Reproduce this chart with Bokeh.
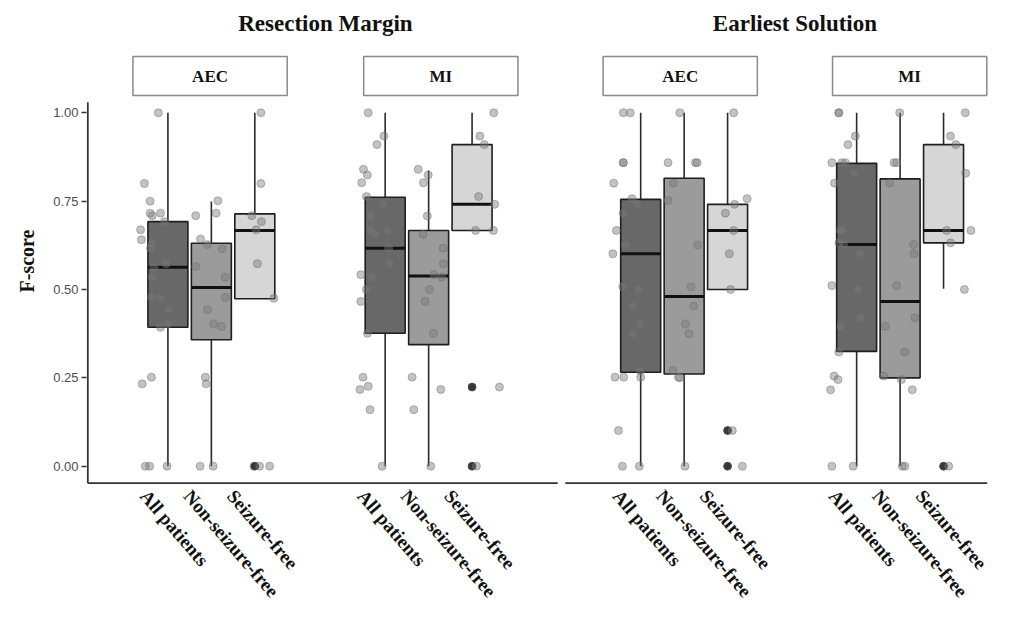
import math
from bokeh.plotting import figure
from bokeh.models import Range1d, FixedTicker, PrintfTickFormatter, ColumnDataSource, Title
from bokeh.core.properties import value
from bokeh.embed import file_html
from bokeh.resources import INLINE

# ---------------- data ----------------
groups = ["Resection Margin", "Earliest Solution"]
methods = ["AEC", "MI", "AEC", "MI"]
categories = ["All patients", "Non-seizure-free", "Seizure-free"]
y_ticks = [0.0, 0.25, 0.5, 0.75, 1.0]
y_title = "F-score"

# box statistics per facet: [All patients, Non-seizure-free, Seizure-free]
rm_aec_q1 = [0.393, 0.358, 0.474]
rm_aec_med = [0.563, 0.506, 0.667]
rm_aec_q3 = [0.692, 0.631, 0.714]
rm_aec_lo = [0.0, 0.0, 0.474]
rm_aec_hi = [1.0, 0.749, 1.0]
rm_aec_out = [[], [], [0.0]]

rm_mi_q1 = [0.376, 0.344, 0.667]
rm_mi_med = [0.617, 0.538, 0.741]
rm_mi_q3 = [0.761, 0.667, 0.910]
rm_mi_lo = [0.0, 0.0, 0.667]
rm_mi_hi = [1.0, 0.837, 1.0]
rm_mi_out = [[], [], [0.224, 0.0]]

es_aec_q1 = [0.266, 0.261, 0.500]
es_aec_med = [0.601, 0.480, 0.667]
es_aec_q3 = [0.755, 0.815, 0.741]
es_aec_lo = [0.0, 0.0, 0.500]
es_aec_hi = [1.0, 1.0, 1.0]
es_aec_out = [[], [], [0.101, 0.0]]

es_mi_q1 = [0.325, 0.250, 0.632]
es_mi_med = [0.627, 0.466, 0.667]
es_mi_q3 = [0.857, 0.813, 0.910]
es_mi_lo = [0.0, 0.0, 0.502]
es_mi_hi = [1.0, 1.0, 1.0]
es_mi_out = [[], [], [0.0]]

# individual patient F-scores and their horizontal jitter
rm_aec_all = [1.0, 0.80, 0.75, 0.716, 0.709, 0.716, 0.692, 0.669, 0.641, 0.629, 0.617, 0.573,
              0.563, 0.535, 0.478, 0.475, 0.443, 0.393, 0.403, 0.233, 0.252, 0.0, 0.0, 0.0]
rm_aec_all_jit = [-0.22, -0.54, -0.41, -0.41, -0.36, -0.17, -0.08, -0.63, -0.61, -0.36, -0.40, -0.04,
                  -0.32, -0.36, -0.38, -0.18, 0.01, -0.17, 0.0, -0.59, -0.38, -0.52, -0.42, -0.02]
rm_aec_nsf = [0.709, 0.751, 0.716, 0.643, 0.627, 0.615, 0.565, 0.535, 0.478, 0.443, 0.403, 0.395,
              0.252, 0.233, 0.0, 0.0]
rm_aec_nsf_jit = [-0.36, 0.15, 0.11, -0.25, -0.09, 0.25, -0.36, 0.32, 0.32, -0.09, 0.05, 0.23,
                  -0.14, -0.12, -0.26, 0.04]
rm_aec_sf = [1.0, 0.80, 0.709, 0.692, 0.669, 0.573, 0.475, 0.0, 0.0, 0.0]
rm_aec_sf_jit = [0.14, 0.14, -0.07, 0.15, 0.03, 0.06, 0.44, -0.02, 0.11, 0.34]

rm_mi_all = [1.0, 0.934, 0.910, 0.840, 0.824, 0.802, 0.763, 0.741, 0.708, 0.669, 0.656, 0.667,
             0.617, 0.573, 0.535, 0.542, 0.50, 0.466, 0.376, 0.252, 0.217, 0.226, 0.160, 0.0]
rm_mi_all_jit = [-0.39, -0.03, -0.19, -0.50, -0.41, -0.54, -0.43, -0.05, -0.34, -0.34, -0.24, 0.05,
                 0.08, 0.11, -0.31, -0.56, -0.43, -0.56, -0.41, -0.51, -0.58, -0.39, -0.35, -0.07]
rm_mi_nsf = [0.840, 0.824, 0.802, 0.708, 0.656, 0.617, 0.573, 0.542, 0.535, 0.50, 0.466, 0.376,
             0.252, 0.217, 0.160, 0.0]
rm_mi_nsf_jit = [-0.24, -0.01, -0.12, -0.03, -0.13, 0.33, 0.34, 0.12, 0.30, 0.02, -0.08, 0.11,
                 -0.38, 0.28, -0.34, 0.05]
rm_mi_sf = [1.0, 0.934, 0.910, 0.763, 0.741, 0.667, 0.667, 0.224, 0.224, 0.0, 0.0]
rm_mi_sf_jit = [0.50, 0.18, 0.28, 0.15, 0.52, 0.08, 0.49, 0.63, 0.0, 0.10, 0.0]

es_aec_all = [1.0, 1.0, 0.859, 0.859, 0.801, 0.757, 0.742, 0.716, 0.667, 0.626, 0.601, 0.508,
              0.50, 0.453, 0.403, 0.375, 0.271, 0.252, 0.252, 0.252, 0.101, 0.0, 0.0]
es_aec_all_jit = [-0.40, -0.24, -0.40, -0.40, -0.62, -0.20, -0.08, -0.40, -0.56, -0.35, -0.64, -0.41,
                  -0.05, -0.18, -0.02, -0.18, -0.01, -0.59, -0.39, 0.0, -0.51, -0.42, -0.03]
es_aec_nsf = [1.0, 0.859, 0.859, 0.859, 0.801, 0.752, 0.626, 0.508, 0.453, 0.403, 0.375, 0.271,
              0.252, 0.25, 0.0]
es_aec_nsf_jit = [-0.10, -0.37, 0.26, 0.30, -0.25, -0.37, 0.31, 0.16, 0.22, 0.03, 0.11, -0.26,
                  -0.13, -0.10, 0.02]
es_aec_sf = [1.0, 0.757, 0.741, 0.716, 0.667, 0.601, 0.50, 0.101, 0.101, 0.0, 0.0]
es_aec_sf_jit = [0.14, 0.45, 0.16, -0.05, 0.14, 0.04, 0.07, 0.11, 0.0, 0.34, 0.0]

es_mi_all = [1.0, 1.0, 0.934, 0.910, 0.859, 0.859, 0.859, 0.829, 0.801, 0.667, 0.667, 0.632,
             0.627, 0.601, 0.511, 0.50, 0.42, 0.396, 0.323, 0.255, 0.245, 0.216, 0.0, 0.0]
es_mi_all_jit = [-0.41, -0.41, -0.03, -0.20, -0.57, -0.34, -0.26, -0.05, -0.51, -0.37, -0.34, -0.41,
                 -0.30, 0.07, -0.57, 0.04, 0.09, -0.36, -0.41, -0.52, -0.43, -0.60, -0.57, -0.08]
es_mi_nsf = [1.0, 0.859, 0.859, 0.801, 0.627, 0.601, 0.511, 0.42, 0.396, 0.323, 0.255, 0.245,
             0.216, 0.0, 0.0]
es_mi_nsf_jit = [-0.01, -0.14, -0.08, -0.24, 0.31, 0.32, -0.08, 0.34, -0.34, 0.11, -0.38, 0.03,
                 0.28, 0.05, 0.11]
es_mi_sf = [1.0, 0.934, 0.910, 0.829, 0.667, 0.667, 0.632, 0.50, 0.0, 0.0]
es_mi_sf_jit = [0.50, 0.16, 0.28, 0.51, 0.07, 0.63, 0.16, 0.48, 0.12, 0.0]

# ---------------- assemble ----------------
box_stats = [
    (rm_aec_q1, rm_aec_med, rm_aec_q3, rm_aec_lo, rm_aec_hi, rm_aec_out),
    (rm_mi_q1, rm_mi_med, rm_mi_q3, rm_mi_lo, rm_mi_hi, rm_mi_out),
    (es_aec_q1, es_aec_med, es_aec_q3, es_aec_lo, es_aec_hi, es_aec_out),
    (es_mi_q1, es_mi_med, es_mi_q3, es_mi_lo, es_mi_hi, es_mi_out),
]
points = [
    [(rm_aec_all, rm_aec_all_jit), (rm_aec_nsf, rm_aec_nsf_jit), (rm_aec_sf, rm_aec_sf_jit)],
    [(rm_mi_all, rm_mi_all_jit), (rm_mi_nsf, rm_mi_nsf_jit), (rm_mi_sf, rm_mi_sf_jit)],
    [(es_aec_all, es_aec_all_jit), (es_aec_nsf, es_aec_nsf_jit), (es_aec_sf, es_aec_sf_jit)],
    [(es_mi_all, es_mi_all_jit), (es_mi_nsf, es_mi_nsf_jit), (es_mi_sf, es_mi_sf_jit)],
]

# ---------------- layout (styling) ----------------
W, H = 1014, 622
UNIT_PX = 43.5                   # pixels per category step
FRAME_LEFT = 85
FRAME_H = 486
PX_PER_Y = 353.4
ZERO_PX = 465.7                  # pixel row of F-score 0
FACET_POS = [1.0, 6.0, 11.88, 16.85]
STRIP_X = [0.97, 6.28, 11.79, 17.07]
STRIP_W = 3.55
BOX_W = 0.92
LABEL_SHIFT = -0.55              # rotated labels start left of their box
fills = ["#686868", "#9b9b9b", "#d6d6d6"]

X0 = 1.0 - (210 - FRAME_LEFT) / UNIT_PX
X1 = X0 + (W - FRAME_LEFT) / UNIT_PX
Y1 = ZERO_PX / PX_PER_Y
Y0 = -(FRAME_H - ZERO_PX) / PX_PER_Y

def ydat(px):
    return (ZERO_PX - px) / PX_PER_Y

def xdat(px):
    return X0 + (px - FRAME_LEFT) / UNIT_PX

p = figure(width=W, height=H, output_backend="svg", toolbar_location=None,
           x_range=Range1d(X0, X1), y_range=Range1d(Y0, Y1),
           min_border_left=FRAME_LEFT, min_border_right=0, min_border_top=0,
           min_border_bottom=H - FRAME_H)
p.outline_line_color = None
p.grid.visible = False
p.background_fill_color = "white"
p.border_fill_color = "white"

# boxes
bx, btop, bbot, bmed, bfill, wx, wy0, wy1 = [], [], [], [], [], [], [], []
ox, oy = [], []
tick_pos, tick_lab = [], []
for f, (q1, med, q3, lo, hi, outs) in enumerate(box_stats):
    for c in range(3):
        x = FACET_POS[f] + (c - 1)
        tick_pos.append(x + LABEL_SHIFT)
        tick_lab.append(categories[c])
        bx.append(x); btop.append(q3[c]); bbot.append(q1[c]); bmed.append(med[c]); bfill.append(fills[c])
        wx.append(x); wy0.append(hi[c]); wy1.append(q3[c])
        wx.append(x); wy0.append(q1[c]); wy1.append(lo[c])
        for o in outs[c]:
            ox.append(x); oy.append(o)
box_src = ColumnDataSource(dict(x=bx, top=btop, bottom=bbot, med=bmed, fill=bfill))
p.segment(x0=wx, y0=wy0, x1=wx, y1=wy1, line_color="#2b2b2b", line_width=1.6)
p.vbar(x="x", top="top", bottom="bottom", width=BOX_W, fill_color="fill",
       line_color="#1e1e1e", line_width=1.6, source=box_src)
p.segment(x0=[b - BOX_W / 2 for b in bx], y0=bmed, x1=[b + BOX_W / 2 for b in bx], y1=bmed,
          line_color="#111111", line_width=3)
p.scatter(ox, oy, size=7.5, fill_color="black", line_color="black")

px_, py_ = [], []
for f in range(4):
    for c in range(3):
        vals, jit = points[f][c]
        x = FACET_POS[f] + (c - 1)
        for v, j in zip(vals, jit):
            px_.append(x + j); py_.append(v)
p.scatter(px_, py_, size=8, fill_color="#7a7a7a", fill_alpha=0.45,
          line_color="#6a6a6a", line_alpha=0.45)

# axis lines (broken x axis between the two groups)
AX_Y = ydat(482.7)
YL = xdat(86.3)
p.segment(x0=[YL, YL, xdat(564.3)], y0=[AX_Y, AX_Y, AX_Y],
          x1=[YL, xdat(556.7), xdat(986.7)], y1=[ydat(101.7), AX_Y, AX_Y],
          line_color="#333333", line_width=1.8)

# facet strips
strip_y = ydat(75.5)
p.rect(x=STRIP_X, y=[strip_y] * 4, width=STRIP_W, height=39 / PX_PER_Y,
       fill_color="white", line_color="#8a8a8a", line_width=1.5)
p.text(x=STRIP_X, y=[strip_y] * 4, text=methods, text_font=value("Liberation Serif"),
       text_font_style="bold", text_font_size="17px", text_align="center",
       text_baseline="middle", text_color="#111111")

# group titles
gx = [(STRIP_X[0] + STRIP_X[1]) / 2, (STRIP_X[2] + STRIP_X[3]) / 2]
p.text(x=gx, y=[ydat(23)] * 2, text=groups, text_font=value("Liberation Serif"),
       text_font_style="bold", text_font_size="23px", text_align="center",
       text_baseline="middle", text_color="#111111")

# y axis
p.yaxis.ticker = FixedTicker(ticks=y_ticks)
p.yaxis.formatter = PrintfTickFormatter(format="%.2f")
p.yaxis.axis_line_color = None
p.yaxis.major_tick_out = 5
p.yaxis.major_tick_in = 0
p.yaxis.minor_tick_line_color = None
p.yaxis.major_tick_line_color = "#333333"
p.yaxis.major_tick_line_width = 1.3
p.yaxis.major_label_standoff = 3
p.yaxis.major_label_text_font = "Liberation Sans"
p.yaxis.major_label_text_font_size = "13px"
p.yaxis.major_label_text_color = "#4d4d4d"

# y title in the left margin, placed beside the middle of the data area
p.add_layout(Title(text=y_title, align="left", offset=194, standoff=26,
                   text_font="Liberation Serif", text_font_style="bold",
                   text_font_size="20px", text_color="#111111"), "left")

# x axis
p.xaxis.ticker = FixedTicker(ticks=tick_pos)
p.xaxis.major_label_overrides = {t: l for t, l in zip(tick_pos, tick_lab)}
p.xaxis.major_label_orientation = -0.86
p.xaxis.axis_line_color = None
p.xaxis.major_tick_line_color = None
p.xaxis.minor_tick_line_color = None
p.xaxis.major_tick_out = 0
p.xaxis.major_label_standoff = 6
p.xaxis.major_label_text_font = "Liberation Serif"
p.xaxis.major_label_text_font_style = "bold"
p.xaxis.major_label_text_font_size = "19px"
p.xaxis.major_label_text_color = "#111111"

open("out.html", "w").write(file_html(p, INLINE))
